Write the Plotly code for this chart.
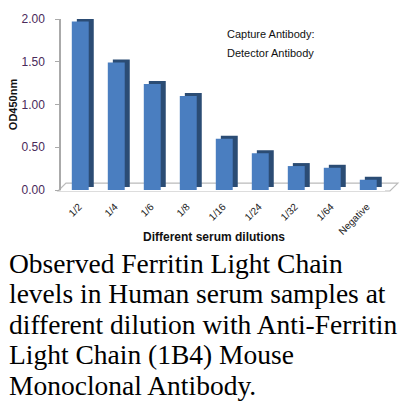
import plotly.graph_objects as go

categories = ["1/2", "1/4", "1/6", "1/8", "1/16", "1/24", "1/32", "1/64", "Negative"]
od_values = [1.97, 1.49, 1.24, 1.10, 0.60, 0.43, 0.28, 0.26, 0.12]
y_ticks = [0, 0.5, 1.0, 1.5, 2.0]
y_tick_labels = ["0.00", "0.50", "1.00", "1.50", "2.00"]
x_title = "Different serum dilutions"
legend_lines = ["Capture Antibody:", "Detector Antibody"]
caption_lines = [
    "Observed Ferritin Light Chain",
    "levels in Human serum samples at",
    "different dilution with Anti-Ferritin",
    "Light Chain (1B4) Mouse",
    "Monoclonal Antibody.",
]

W, H = 400, 404
ML, MR, MT, MB = 58, 15, 15, 214
ph = H - MT - MB
pw = W - ML - MR


def py(pix):
    return (H - MB - pix) / ph


def px(pix):
    return (pix - ML) / pw


fig = go.Figure()
# dark side/depth of the bars
fig.add_trace(go.Bar(
    x=categories, y=od_values, base=0.035, width=0.47, offset=-0.06,
    marker=dict(color="#2B4C74", line=dict(width=0)), hoverinfo="skip",
))
# front face
fig.add_trace(go.Bar(
    x=categories, y=od_values, width=0.47, offset=-0.2,
    marker=dict(color="#4A7EC0", line=dict(width=0)),
))

fig.update_layout(
    width=W, height=H, margin=dict(l=ML, r=MR, t=MT, b=MB),
    paper_bgcolor="white", plot_bgcolor="white", showlegend=False,
    barmode="overlay", bargap=0.5,
    font=dict(family="Arial, Liberation Sans", size=10, color="#222"),
    xaxis=dict(showline=False, showgrid=False, ticks="", tickangle=-45,
               ticklabelstandoff=8,
               tickfont=dict(size=10, color="#222")),
    yaxis=dict(range=[0, 2.0], tickvals=y_ticks, ticktext=y_tick_labels,
               showgrid=False, showline=True, linecolor="#AAAAAA", linewidth=1.5,
               ticks="outside", ticklen=4, tickcolor="#AAAAAA",
               ticklabelstandoff=8,
               tickfont=dict(size=12, color="#4A2A5A"),
               title=dict(text="<b>OD450nm</b>", font=dict(size=11, color="#111"),
                          standoff=2)),
)

# floor outline
fig.add_shape(type="path", xref="paper", yref="paper",
              path=f"M {px(55)} {py(191)} L {px(63)} {py(183)} L {px(398)} {py(183)} L {px(390)} {py(191)} Z",
              line=dict(color="#BBBBBB", width=1.2), fillcolor="rgba(0,0,0,0)", layer="below")

fig.add_annotation(text=f"<b>{x_title}</b>", xref="paper", yref="paper", x=px(212), y=py(238),
                   xanchor="center", yanchor="middle", showarrow=False,
                   font=dict(size=12, color="#111"))

for i, t in enumerate(legend_lines):
    fig.add_annotation(text=t, xref="paper", yref="paper", x=px(224), y=py(30 + 20 * i),
                       xanchor="left", yanchor="middle", showarrow=False,
                       font=dict(size=11, color="#111"))

for i, t in enumerate(caption_lines):
    fig.add_annotation(text=t, xref="paper", yref="paper", x=px(4), y=py(265 + 31.2 * i),
                       xanchor="left", yanchor="middle", showarrow=False,
                       font=dict(family="Liberation Serif, Times New Roman", size=27.5, color="#000"))

fig.write_html("out.html")
